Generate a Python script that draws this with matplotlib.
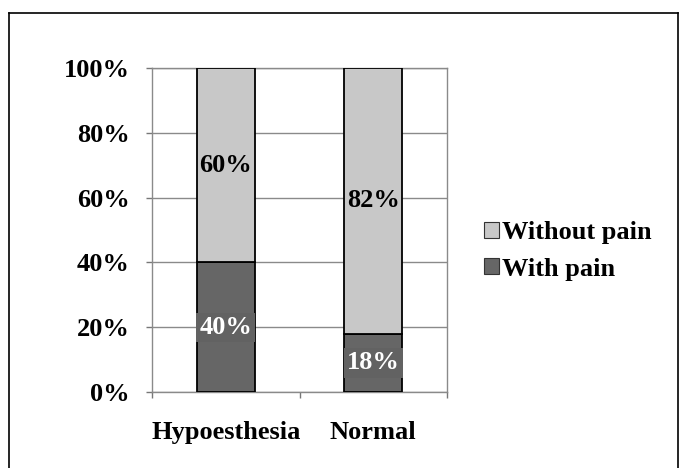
import matplotlib
matplotlib.use("Agg")
import matplotlib.pyplot as plt
from matplotlib.lines import Line2D
from matplotlib.patches import Patch

categories = ["Hypoesthesia", "Normal"]
with_pain = [40, 18]
without_pain = [60, 82]
series_names = ["Without pain", "With pain"]
ytick_labels = ["0%", "20%", "40%", "60%", "80%", "100%"]

light = "#c8c8c8"
dark = "#666666"
FONT = ["Liberation Serif", "DejaVu Serif"]
FS = 19

plt.rcParams["font.family"] = FONT
plt.rcParams["font.weight"] = "bold"

fig = plt.figure(figsize=(6.81, 4.68), dpi=100)
ax = fig.add_axes([152/681, 1 - 392/468, 295/681, 324/468])

x = list(range(len(categories)))
w = 0.39
ax.bar(x, with_pain, width=w, color=dark, edgecolor="black", linewidth=1.3, zorder=3)
ax.bar(x, without_pain, width=w, bottom=with_pain, color=light, edgecolor="black", linewidth=1.3, zorder=3)

for xi, a, b in zip(x, with_pain, without_pain):
    ax.text(xi, a / 2, f"{a}%", ha="center", va="center", color="white",
            fontsize=FS, fontweight="bold", zorder=5,
            bbox=dict(boxstyle="square,pad=0.12", facecolor="#626262", edgecolor="none"))
    ax.text(xi, a + b / 2, f"{b}%", ha="center", va="center", color="black",
            fontsize=FS, fontweight="bold", zorder=5)

ax.set_xlim(-0.5, len(categories) - 0.5)
ax.set_ylim(0, 100)
ax.set_yticks([0, 20, 40, 60, 80, 100])
ax.set_yticklabels(ytick_labels, fontsize=FS, fontweight="bold")
ax.set_xticks(x)
ax.set_xticklabels(categories, fontsize=FS, fontweight="bold")
ax.set_xticks([-0.5, 0.5, 1.5], minor=True)
ax.tick_params(axis="x", which="major", length=0, pad=21)
ax.tick_params(axis="x", which="minor", length=4, color="#777777", width=1)
ax.tick_params(axis="y", length=4, color="#777777", width=1, pad=12)
ax.yaxis.grid(True, color="#8a8a8a", linewidth=1.0, zorder=0)
ax.set_axisbelow(True)
for s in ax.spines.values():
    s.set_color("#8a8a8a")
    s.set_linewidth(1.0)

handles = [Patch(facecolor=light, edgecolor="#333333", linewidth=0.8),
           Patch(facecolor=dark, edgecolor="#333333", linewidth=0.8)]
fig.legend(handles, series_names, loc="center left", bbox_to_anchor=(484/681, 1 - 251/468),
           frameon=False, prop=dict(family=FONT, weight="bold", size=FS),
           handlelength=0.55, handleheight=0.55, handletextpad=0.15, labelspacing=0.5,
           borderpad=0, borderaxespad=0)

# outer border
fig.add_artist(Line2D([9/681, 9/681], [0, 1 - 13/468], transform=fig.transFigure, color="black", lw=1.2))
fig.add_artist(Line2D([9/681, 678/681], [1 - 13/468, 1 - 13/468], transform=fig.transFigure, color="black", lw=1.2))
fig.add_artist(Line2D([678/681, 678/681], [0, 1 - 13/468], transform=fig.transFigure, color="black", lw=1.2))

fig.savefig("out.png", dpi=100)
